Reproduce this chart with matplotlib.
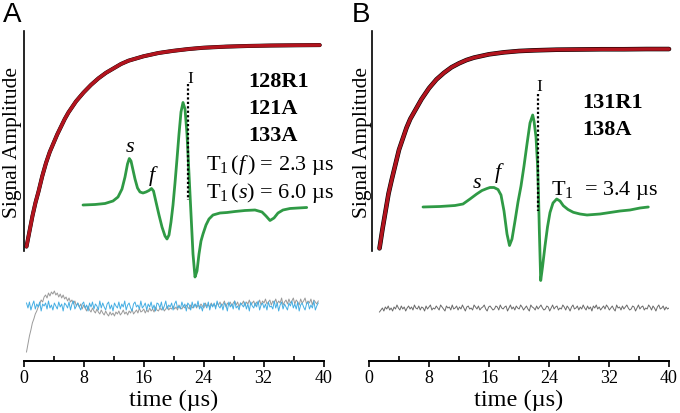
import numpy as np
import matplotlib
matplotlib.use("Agg")
import matplotlib.pyplot as plt
from matplotlib.ticker import MultipleLocator

# ---------------- data ----------------
# saturation-recovery curves (normalised amplitude vs time in µs)
rec_t_A = [0.4, 0.8, 1.2, 1.6, 2.0, 2.5, 3.0, 3.5, 4.0, 4.5, 5.0, 5.5, 6.0, 7.0, 8.0,
           9.0, 10, 11, 12, 13, 14, 16, 18, 20, 22, 24, 27, 30, 33, 36, 39.5]
rec_A = [0.02, 0.09, 0.16, 0.22, 0.27, 0.34, 0.40, 0.45, 0.49, 0.53, 0.565, 0.60, 0.63,
         0.68, 0.72, 0.755, 0.785, 0.81, 0.83, 0.85, 0.865, 0.885, 0.90, 0.91, 0.918,
         0.924, 0.929, 0.932, 0.934, 0.935, 0.936]
rec_t_B = [1.4, 1.8, 2.2, 2.6, 3.0, 3.5, 4.0, 4.5, 5.0, 5.5, 6.0, 7.0, 8.0, 9.0, 10, 11,
           12, 13, 14, 16, 18, 20, 22, 25, 28, 31, 34, 37, 40]
rec_B = [0.012, 0.10, 0.18, 0.26, 0.32, 0.39, 0.46, 0.51, 0.56, 0.60, 0.63, 0.69, 0.74,
         0.78, 0.81, 0.835, 0.853, 0.868, 0.879, 0.894, 0.903, 0.909, 0.912, 0.915,
         0.916, 0.917, 0.917, 0.918, 0.918]

# residuals (arb. units), evenly sampled over the given time spans
res_span_A = (0.4, 39.3)
res_gray_A = [-46, -38, -30, -24, -17, -13, -8, -5, -1, 2,
              6, 4, 9, 11, 8, 13, 10, 14, 12, 15,
              11, 13, 9, 12, 8, 11, 7, 9, 5, 8,
              4, 6, 2, 5, 0, 3, -1, 2, -3, 1,
              -2, -5, 0, -4, -6, -2, -5, -7, -3, -6,
              -8, -4, -7, -9, -5, -8, -10, -6, -9, -7,
              -10, -6, -8, -5, -9, -7, -4, -8, -6, -9,
              -5, -7, -3, -8, -6, -4, -7, -2, -6, -5,
              -3, -7, -4, -6, -2, -5, -3, -6, -1, -4,
              -5, -2, -4, -1, -5, -3, 0, -4, -2, -3,
              0, -3, -1, -4, 1, -2, -3, 0, -2, 1,
              -1, -3, 1, -2, 0, 2, -2, 1, -1, 2,
              0, -2, 3, 0, 1, -1, 3, 0, 2, -1,
              3, 1, 4, 0, 2, 5, -1, 3, 1, 4,
              0, 3, 5, 1, 4, -1, 3, 2, 5, 0,
              4, 2, 6, 1, 3, 5, 0, 4, 2, 6,
              1, 5, 3, 7, 2, 4, 6, 1, 5, 3,
              7, 2, 5, 3, 8, 1, 4, 6, 2, 7,
              3, 5, 8, 2, 6, 4, 1, 7, 3, 5,
              8, 2, 5, 3, 7, 1, 6, 4, 2, 5]
res_blue_A = [3, -2, 4, -4, 1, 5, -3, 2, -1, 4,
              -5, 2, 0, 3, -3, 5, -2, 1, -4, 3,
              0, -3, 4, -1, 2, -5, 3, 1, -2, 4,
              -4, 2, 5, -3, 0, 3, -1, -4, 2, 4,
              -2, 1, -5, 3, -1, 4, -3, 2, 0, -4,
              5, -2, 3, -1, -4, 2, 4, -3, 1, -5,
              3, 0, -2, 4, -3, 2, -1, 5, -4, 1,
              3, -2, -5, 2, 4, -1, 1, -3, 5, -2,
              0, 3, -4, 2, -1, 4, -3, 1, -5, 3,
              2, -2, 4, -4, 0, 5, -3, 1, -1, 3,
              -4, 2, 5, -2, 0, -3, 4, -1, 2, -5,
              3, 1, -4, 4, -2, 2, -1, 5, -3, 0,
              -5, 3, 1, -2, 4, -4, 2, -1, 3, -3,
              5, 0, -2, 2, -4, 3, 1, -5, 4, -1,
              2, -3, 5, -2, 0, -4, 3, 1, -1, 4,
              -3, 2, -5, 4, 0, -2, 3, -1, 5, -4,
              1, 3, -2, 2, -4, 4, -1, 0, -3, 5,
              -2, 3, -5, 1, 4, -3, 2, -1, -4, 3,
              0, 5, -2, 2, -3, 4, -5, 1, 3, -1,
              -4, 2, 4, -3, 1, -2, 5, -4, 0, 3]
res_span_B = (1.4, 40.0)
res_gray_B = [-6, -4, -2, -5, -1, -3, 0, -4, -2, -5,
              -1, -3, 1, -2, -4, 0, -3, -1, -5, -2,
              0, -3, -1, -4, 1, -2, -3, 0, -4, -1,
              -2, -5, 0, -3, -1, 1, -4, -2, -3, 0,
              -2, -4, 1, -1, -3, -5, 0, -2, -1, -4,
              1, -3, -2, 0, -4, -1, -3, 1, -2, -5,
              -1, 0, -3, -2, -4, 1, -1, -3, 0, -4,
              -2, -1, 1, -3, -5, -1, 0, -2, -4, -3,
              0, -1, -4, 1, -2, -3, -1, 0, -5, -2,
              1, -3, -1, -4, 0, -2, -3, 1, -1, -4,
              -2, 0, -3, -5, 1, -1, -2, -4, 0, -3,
              -1, 1, -2, -4, -3, 0, -1, -5, -2, 1,
              -3, -1, 0, -4, -2, -3, 1, -1, -4, 0,
              -2, -5, -1, 1, -3, -2, 0, -4, -1, -3,
              1, -2, -4, 0, -3, -1, -5, 0, -2, 1,
              -3, -1, -4, -2, 0, -3, 1, -1, -4, -2,
              0, -3, -5, 1, -2, -1, -4, 0, -3, -1,
              1, -2, -4, -3, 0, -1, -5, -2, 1, -3,
              -1, 0, -4, -2, -3, 1, -1, -4, 0, -2,
              -5, -1, 1, -3, -2, 0, -4, -1, -3, -2]

# EPR spectra (field offset in G, derivative amplitude in arb. units)
epr_field_A = [0, 12, 22, 30, 35, 39, 42, 44.5, 46.3, 48, 50, 52, 54.5, 57, 60, 63, 66,
               68.5, 70.5, 73, 76, 79, 82, 84, 86, 88, 90, 92, 94, 96, 98, 100, 102, 104,
               106, 108, 110, 112, 114, 116, 118, 120, 123, 126, 130, 137, 144, 152, 162,
               172, 179, 183, 187, 191, 195, 200, 207, 215, 223.7]
epr_A = [0, 0.5, 1.5, 4, 8, 16, 28, 41, 46.5, 44, 35, 26, 17, 13, 12, 13, 14.5, 16.5, 14,
         3, -10, -22, -31, -34, -30, -17, 0, 22, 46, 71, 93, 102.5, 96, 71, 31, -9, -49,
         -72, -66, -49, -36, -29, -20, -14, -10, -8, -7.5, -6.5, -5.5, -5, -7, -11, -15.5,
         -13, -8, -5, -3.5, -3, -2.5]
epr_field_B = [0, 17, 32, 40, 47, 53.7, 59, 64, 67, 71, 75, 78, 81, 84, 86.5, 89, 92, 95,
               98, 101, 104, 107, 109.7, 111, 113, 114.5, 115.5, 116.3, 117.7, 119.5, 122,
               124.5, 127, 130, 133.7, 137, 140.3, 145, 150.3, 157, 164, 177, 187, 197,
               207, 217, 225.3]
epr_B = [0, 0.5, 1.5, 3, 8, 13, 16.5, 18.5, 19.5, 19.5, 17.5, 12, -4, -27, -38.5, -32,
         -14, 5, 21, 41, 63, 84, 92, 86, 70, 43, 13, -22, -73.5, -60, -39, -20, -5.5, 4,
         8, 6, 1.3, -2.5, -5.3, -7, -8, -7, -5.5, -4, -3, -1, 0]
line_I_A = 105.3
line_I_B = 114.5

x_ticks = [0, 8, 16, 24, 32, 40]
x_label = "time (µs)"
y_label = "Signal Amplitude"

# ---------------- style ----------------
plt.rcParams["font.family"] = ["Liberation Serif", "DejaVu Serif"]
plt.rcParams["mathtext.fontset"] = "custom"
plt.rcParams["mathtext.rm"] = "Liberation Serif"
plt.rcParams["mathtext.it"] = "Liberation Serif:italic"
plt.rcParams["mathtext.bf"] = "Liberation Serif:bold"

RED = "#b2141e"
GREEN = "#2f9a45"
BLUE = "#45aee3"

W, H = 680, 414
fig = plt.figure(figsize=(W / 100, H / 100), dpi=100)


def rect(x0, y0, x1, y1):
    return [x0 / W, 1 - y1 / H, (x1 - x0) / W, (y1 - y0) / H]


def ftext(x, y, s, **kw):
    return fig.text(x / W, 1 - y / H, s, **kw)


panels = [
    dict(x0=23.5, spine_at=0.0, rec_t=rec_t_A, rec=rec_A, halo=2.9, ylab_x=13,
         res=[(res_gray_A, res_span_A, "#9a9a9a"), (res_blue_A, res_span_A, BLUE)],
         field=epr_field_A, epr=epr_A, lineI=line_I_A, ins=(83, 306.7), base=206,
         I_top=85, I_bot=201),
    dict(x0=369.0, spine_at=0.45, rec_t=rec_t_B, rec=rec_B, halo=3.3, ylab_x=362,
         res=[(res_gray_B, res_span_B, "#6a6a6a")],
         field=epr_field_B, epr=epr_B, lineI=line_I_B, ins=(423, 648.3), base=208,
         I_top=95, I_bot=212),
]

for p in panels:
    x0 = p["x0"]
    x1 = x0 + 300
    # residual axis with time axis
    axr = fig.add_axes(rect(x0, 262, x1, 362))
    axr.set_facecolor("none")
    axr.set_xlim(0, 40)
    axr.set_ylim(-55, 45)
    for s in ["top", "right", "left"]:
        axr.spines[s].set_visible(False)
    axr.spines["bottom"].set_linewidth(1.4)
    axr.set_yticks([])
    axr.set_xticks(x_ticks)
    axr.xaxis.set_minor_locator(MultipleLocator(4))
    axr.tick_params(axis="x", which="major", direction="out", length=4, width=1.2,
                    labelsize=13, pad=1.5)
    axr.tick_params(axis="x", which="minor", direction="in", length=3.5, width=1.2)
    for vals, span, col in p["res"]:
        t = np.linspace(span[0], span[1], len(vals))
        axr.plot(t, vals, color=col, lw=0.7)

    # recovery axis
    axc = fig.add_axes(rect(x0, 32, x1, 252))
    axc.set_facecolor("none")
    axc.set_xlim(0, 40)
    axc.set_ylim(0, 1)
    for s in ["top", "right", "bottom"]:
        axc.spines[s].set_visible(False)
    axc.spines["left"].set_position(("data", p["spine_at"]))
    axc.spines["left"].set_linewidth(1.2)
    axc.set_xticks([])
    axc.set_yticks([])
    axc.plot(p["rec_t"], p["rec"], color="black", lw=p["halo"], clip_on=False,
             solid_capstyle="round")
    axc.plot(p["rec_t"], p["rec"], color=RED, lw=2.5, clip_on=False,
             solid_capstyle="round")

    # EPR inset
    fa, fb = p["ins"]
    b = p["base"]
    axi = fig.add_axes(rect(fa, 70, fb, 300))
    axi.set_facecolor("none")
    axi.axis("off")
    axi.set_xlim(p["field"][0], p["field"][-1])
    axi.set_ylim(b - 300, b - 70)
    axi.plot(p["field"], p["epr"], color=GREEN, lw=2.0, clip_on=False,
             solid_joinstyle="round", solid_capstyle="round")
    axi.plot([p["lineI"], p["lineI"]], [b - p["I_top"], b - p["I_bot"]],
             color="black", lw=1.6, linestyle=(0, (1, 1)))

    ftext(x0 + 150, 400, x_label, fontsize=17.5, ha="center", va="center")
    ftext(p["ylab_x"], 143, y_label, fontsize=15.5, rotation=90,
          ha="center", va="center")

# panel letters
ftext(12.5, 15, "A", fontsize=20, family="Liberation Sans", ha="center", va="center")
ftext(361, 15, "B", fontsize=20, family="Liberation Sans", ha="center", va="center")

# Panel A annotations
ftext(190, 79, "I", fontsize=12.5, ha="center", va="center")
for txt, yb in [("128R1", 87), ("121A", 114), ("133A", 141.5)]:
    ftext(248, yb, txt, fontsize=16, weight="bold", ha="left", va="baseline")
ftext(206, 170, r"T$_1\,(f\,)$ = 2.3 µs", fontsize=16, ha="left", va="baseline")
ftext(206, 198, r"T$_1\,(s)$ = 6.0 µs", fontsize=16, ha="left", va="baseline")
ftext(130, 152, "s", fontsize=16, style="italic", ha="center", va="baseline")
ftext(152, 181, "f", fontsize=16, style="italic", ha="center", va="baseline")

# Panel B annotations
ftext(539, 87, "I", fontsize=12.5, ha="center", va="center")
for txt, yb in [("131R1", 108.5), ("138A", 135)]:
    ftext(582, yb, txt, fontsize=16, weight="bold", ha="left", va="baseline")
ftext(551, 195.5, r"T$_1$  = 3.4 µs", fontsize=16, ha="left", va="baseline")
ftext(477.5, 188, "s", fontsize=16, style="italic", ha="center", va="baseline")
ftext(498, 178, "f", fontsize=16, style="italic", ha="center", va="baseline")

fig.savefig("out.png", dpi=100)
